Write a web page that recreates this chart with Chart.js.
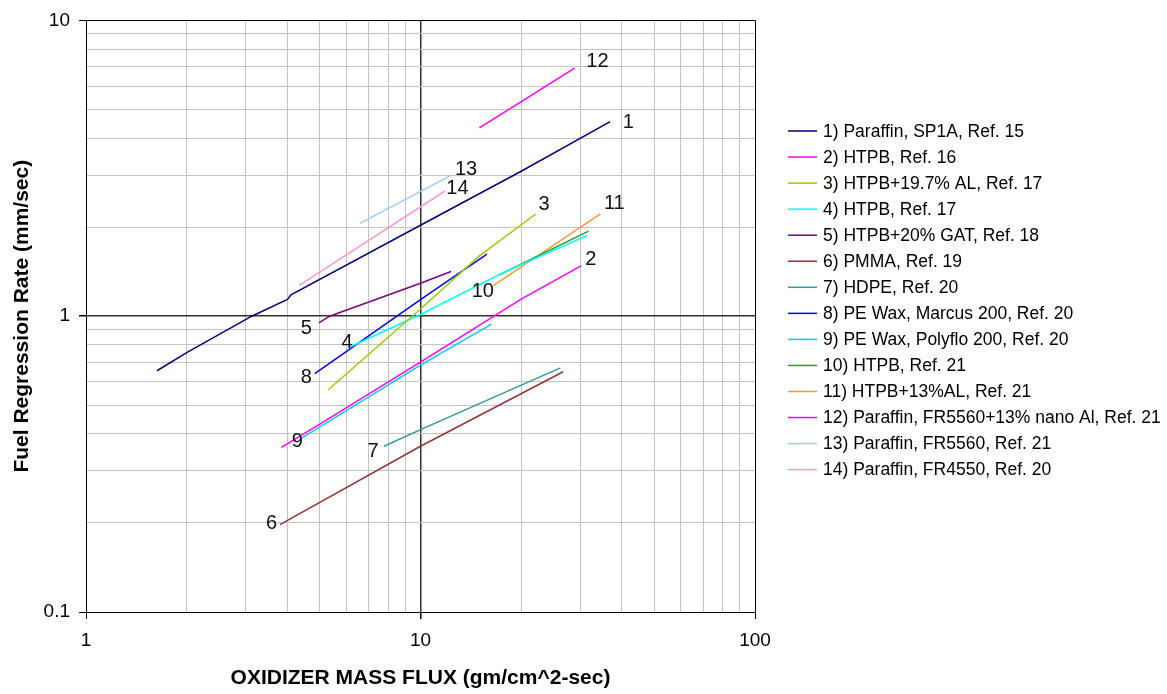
<!DOCTYPE html>
<html><head><meta charset="utf-8">
<script src="https://cdn.jsdelivr.net/npm/chart.js@4/dist/chart.umd.min.js"></script>
<style>html,body{margin:0;padding:0;background:#fff;} canvas{display:block;}</style>
</head><body>
<canvas id="c" width="1167" height="694"></canvas>
<script>
const FONT = '"Liberation Sans", Arial, sans-serif';

const seriesNames = [
  '1) Paraffin, SP1A, Ref. 15',
  '2) HTPB, Ref. 16',
  '3) HTPB+19.7% AL, Ref. 17',
  '4) HTPB, Ref. 17',
  '5) HTPB+20% GAT, Ref. 18',
  '6) PMMA, Ref. 19',
  '7) HDPE, Ref. 20',
  '8) PE Wax, Marcus 200, Ref. 20',
  '9) PE Wax, Polyflo 200, Ref. 20',
  '10) HTPB, Ref. 21',
  '11) HTPB+13%AL, Ref. 21',
  '12) Paraffin, FR5560+13% nano Al, Ref. 21',
  '13) Paraffin, FR5560, Ref. 21',
  '14) Paraffin, FR4550, Ref. 20'
];
const seriesColors = ['#000080','#FF00FF','#99CC00','#00FFFF','#800080','#993333','#339999',
  '#0000FF','#00CCFF','#339933','#FF9933','#FF00FF','#99CCFF','#FF99CC'];

// Oxidizer mass flux (x) and regression rate (y)
const s1X = [1.63, 2.0, 3.13, 4.0, 4.1, 10, 20, 36.9];
const s1Y = [0.654, 0.753, 1.0, 1.14, 1.18, 2.03, 3.09, 4.55];
const s2X = [3.84, 5.0, 10, 20, 30.2];
const s2Y = [0.3605, 0.432, 0.70, 1.143, 1.48];
const s3X = [5.30, 10, 15, 22.1];
const s3Y = [0.564, 1.058, 1.60, 2.216];
const s4X = [6.15, 10, 17.7, 31.5];
const s4Y = [0.787, 1.013, 1.405, 1.875];
const s5X = [4.97, 5.35, 10, 12.34];
const s5Y = [0.95, 1.0, 1.293, 1.416];
const s6X = [3.80, 10, 26.7];
const s6Y = [0.1974, 0.3634, 0.649];
const s7X = [7.78, 10, 26.2];
const s7Y = [0.3634, 0.4134, 0.669];
const s8X = [4.83, 10, 15.8];
const s8Y = [0.639, 1.138, 1.62];
const s9X = [4.41, 10, 16.3];
const s9Y = [0.387, 0.683, 0.94];
const s10X = [17.3, 31.8];
const s10Y = [1.384, 1.94];
const s11X = [16.5, 34.5];
const s11Y = [1.268, 2.216];
const s12X = [15.0, 28.9];
const s12Y = [4.33, 6.90];
const s13X = [6.59, 12.26];
const s13Y = [2.06, 2.98];
const s14X = [4.34, 11.84];
const s14Y = [1.27, 2.65];

const allX = [s1X,s2X,s3X,s4X,s5X,s6X,s7X,s8X,s9X,s10X,s11X,s12X,s13X,s14X];
const allY = [s1Y,s2Y,s3Y,s4Y,s5Y,s6Y,s7Y,s8Y,s9Y,s10Y,s11Y,s12Y,s13Y,s14Y];

// Axis ticks (grid lines) and labelled ticks
const xTicks = [1,2,3,4,5,6,7,8,9,10,20,30,40,50,60,70,80,90,100];
const yTicks = [0.1,0.2,0.3,0.4,0.5,0.6,0.7,0.8,0.9,1,2,3,4,5,6,7,8,9,10];
const xTickLabels = [1, 10, 100];
const yTickLabels = [0.1, 1, 10];

// Curve number annotations (data coordinates)
const curveLabels = ['1','2','3','4','5','6','7','8','9','10','11','12','13','14'];
const curveLabelX = [41.8, 32.3, 23.4, 6.03, 4.56, 3.585, 7.21, 4.56, 4.28, 15.36, 37.96, 33.8, 13.68, 12.89];
const curveLabelY = [4.51, 1.557, 2.394, 0.812, 0.906, 0.1994, 0.3478, 0.619, 0.3757, 1.21, 2.40, 7.27, 3.14, 2.71];

const datasets = seriesNames.map((name, i) => ({
  label: name,
  data: allX[i].map((x, j) => ({x: x, y: allY[i][j]})),
  borderColor: seriesColors[i],
  backgroundColor: seriesColors[i],
  borderWidth: 1.5,
  pointRadius: 0,
  tension: 0,
  fill: false
}));

const near = (a, b) => Math.abs(a - b) < 1e-9;
function gridColor(v, lo, hi, mid) {
  if (near(v, lo) || near(v, hi)) return '#000000';
  if (near(v, mid)) return '#303030';
  return '#C4C4C4';
}

const annotPlugin = {
  id: 'curveNumbers',
  afterDatasetsDraw(chart) {
    const ctx = chart.ctx, xs = chart.scales.x, ys = chart.scales.y;
    ctx.save();
    ctx.font = '20px ' + FONT;
    ctx.fillStyle = '#111';
    ctx.textAlign = 'center';
    ctx.textBaseline = 'middle';
    curveLabels.forEach((t, i) => {
      ctx.fillText(t, xs.getPixelForValue(curveLabelX[i]), ys.getPixelForValue(curveLabelY[i]));
    });
    ctx.restore();
  }
};

const legendPlugin = {
  id: 'sideLegend',
  afterDraw(chart) {
    const ctx = chart.ctx;
    const left = chart.chartArea.right + 33;
    ctx.save();
    ctx.font = '17.5px ' + FONT;
    ctx.textBaseline = 'middle';
    ctx.textAlign = 'left';
    seriesNames.forEach((name, i) => {
      const y = 131 + i * 26.05;
      ctx.strokeStyle = seriesColors[i];
      ctx.lineWidth = 1.5;
      ctx.beginPath(); ctx.moveTo(left, y); ctx.lineTo(left + 29, y); ctx.stroke();
      ctx.fillStyle = '#000';
      ctx.fillText(name, left + 35, y + 1);
    });
    ctx.restore();
  }
};

new Chart(document.getElementById('c'), {
  type: 'line',
  data: { datasets },
  plugins: [annotPlugin, legendPlugin],
  options: {
    responsive: false,
    animation: false,
    layout: { padding: { left: 0, top: 16, right: 412, bottom: 0 } },
    plugins: { legend: { display: false }, tooltip: { enabled: false } },
    scales: {
      x: {
        type: 'logarithmic',
        min: 1, max: 100,
        afterBuildTicks: (s) => { s.ticks = xTicks.map(v => ({value: v})); },
        afterFit: (s) => { s.height = 82; },
        ticks: {
          autoSkip: false, maxRotation: 0, padding: 10,
          color: '#000', font: { family: FONT, size: 19 },
          callback: (v) => xTickLabels.some(t => near(t, v)) ? String(v) : ''
        },
        grid: {
          color: (c) => gridColor(c.tick.value, 1, 100, 10),
          lineWidth: (c) => near(c.tick.value, 10) ? 1.5 : 1,
          tickColor: (c) => xTickLabels.some(t => near(t, c.tick.value)) ? '#000' : 'rgba(0,0,0,0)',
          tickLength: 7
        },
        border: { display: true, color: '#000', width: 1 },
        title: {
          display: true, text: 'OXIDIZER MASS FLUX (gm/cm^2-sec)', color: '#000',
          font: { family: FONT, size: 21, weight: 'bold' }, padding: { top: 0, bottom: 3 }
        }
      },
      y: {
        type: 'logarithmic',
        min: 0.1, max: 10,
        afterBuildTicks: (s) => { s.ticks = yTicks.map(v => ({value: v})); },
        afterFit: (s) => { s.width = 86; },
        ticks: {
          autoSkip: false, padding: 9,
          color: '#000', font: { family: FONT, size: 19 },
          callback: (v) => yTickLabels.some(t => near(t, v)) ? String(v) : ''
        },
        grid: {
          color: (c) => gridColor(c.tick.value, 0.1, 10, 1),
          lineWidth: (c) => near(c.tick.value, 1) ? 1.5 : 1,
          tickColor: (c) => yTickLabels.some(t => near(t, c.tick.value)) ? '#000' : 'rgba(0,0,0,0)',
          tickLength: 7
        },
        border: { display: true, color: '#000', width: 1 },
        title: {
          display: true, text: 'Fuel Regression Rate (mm/sec)', color: '#000',
          font: { family: FONT, size: 21, weight: 'bold' }, padding: { top: 10, bottom: 0 }
        }
      }
    }
  }
});
</script>
</body></html>
